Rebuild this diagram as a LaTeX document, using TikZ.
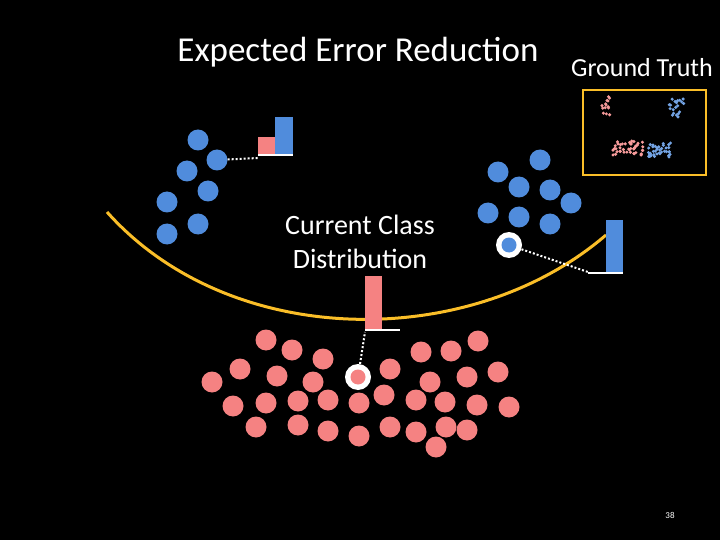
\documentclass[tikz,border=0pt]{standalone}
\usepackage{fontspec}
\setmainfont{Carlito}
\begin{document}
\begin{tikzpicture}[x=1pt,y=-1pt,
  red/.style={circle,fill=red!45!pink,minimum size=21pt,inner sep=0pt},
  blue/.style={circle,fill=blue!40!cyan!60!gray,minimum size=21pt,inner sep=0pt},
  pick/.style={circle,fill=white,minimum size=26pt,inner sep=0pt},
  link/.style={white,line width=2pt,dotted}]
\fill[black] (0,0) rectangle (720,540);
\useasboundingbox (0,0) rectangle (720,540);
\definecolor{rd}{RGB}{245,130,130}
\definecolor{bl}{RGB}{80,140,220}
\definecolor{yl}{RGB}{250,190,40}
\tikzset{red/.append style={fill=rd},blue/.append style={fill=bl}}
% decision curve
\draw[yl,line width=3pt] (107,212) .. controls (230,350) and (470,352) .. (606,235);
% titles
\node[white,font=\fontsize{35}{40}\selectfont] (title) at (358,52) {Expected Error Reduction};
\node[white,font=\fontsize{26}{30}\selectfont] (gt) at (642,68) {Ground Truth};
\node[white,font=\fontsize{28}{34}\selectfont,align=center] (cur) at (360,242) {Current Class\\Distribution};
\node[white,font=\fontsize{9}{10}\selectfont] (pg) at (670,515) {38};
% ground truth box
\draw[yl,line width=2.5pt] (583,90) rectangle (706,175);
\pgfmathsetseed{7}
\foreach \cx/\cy/\n/\c/\w/\h in {606/105/14/rd!80/5/10, 677/108/20/bl!80/8/9, 628/148/45/rd!80/16/7, 660/150/40/bl!80/13/7}
  \foreach \i in {1,...,\n}
    \fill[\c] ({\cx+\w*rand},{\cy+\h*rand}) circle (1.7);
% top-left cluster
\foreach \x/\y [count=\k] in {198/140,217/160,187/171,208/191,167/202,198/224,167/234}
  \node[blue] (l\k) at (\x,\y) {};
\fill[rd] (258,137) rectangle (275,155);
\fill[bl] (275,117) rectangle (293,155);
\draw[white,line width=1.5pt] (258,155) -- (293,155) coordinate (lb);
\coordinate (la) at (258,158);
\draw[link] (l2) -- (la);
% right cluster
\foreach \x/\y [count=\k] in {540/160,498/172,519/187,550/190,571/203,488/213,519/217,550/224}
  \node[blue] (r\k) at (\x,\y) {};
\node[pick] (rp) at (509,245) {};
\node[blue,minimum size=15pt] at (rp) {};
\fill[bl] (606,220) rectangle (623,273);
\draw[white,line width=1.5pt] (588,273) -- (623,273);
\coordinate (ra) at (588,272);
\draw[link] (rp) -- (ra);
% bottom cluster
\foreach \x/\y [count=\k] in {212/382,240/369,266/340,292/350,277/376,323/359,313/382,233/406,266/403,298/401,328/400,256/427,298/425,328/431,359/403,359/436,390/369,384/395,390/427,421/352,430/382,416/400,416/432,451/351,467/377,445/402,446/427,436/447,467/430,478/341,498/372,477/405,509/407}
  \node[red] (b\k) at (\x,\y) {};
\node[pick] (bp) at (358,377) {};
\node[red,minimum size=15pt] at (bp) {};
\fill[rd] (365,276) rectangle (382,330);
\draw[white,line width=1.5pt] (365,330) -- (400,330);
\coordinate (ba) at (365,332);
\draw[link] (bp) -- (ba);
\end{tikzpicture}
\end{document}
